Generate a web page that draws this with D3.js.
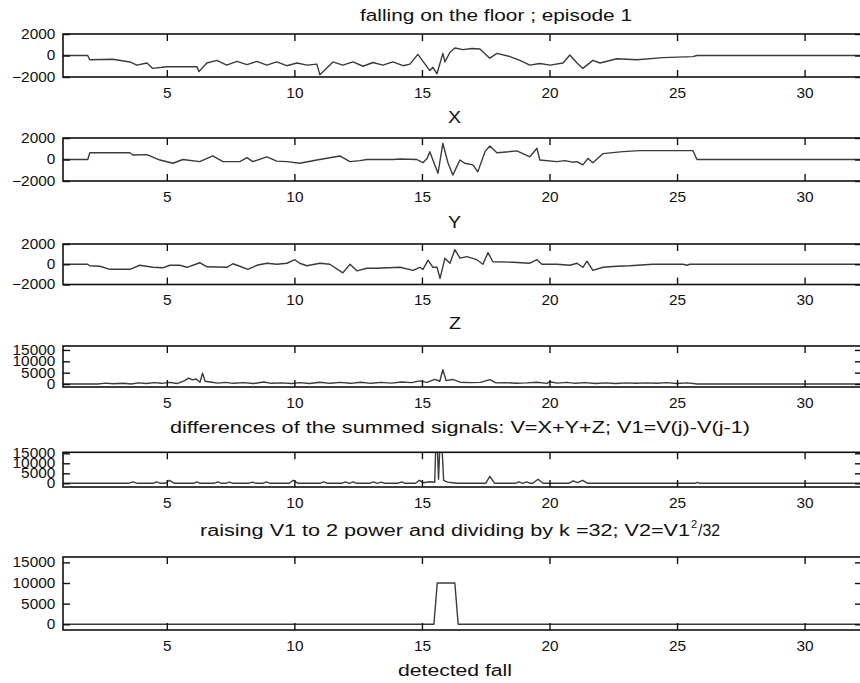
<!DOCTYPE html>
<html><head><meta charset="utf-8">
<script src="https://cdn.jsdelivr.net/npm/d3@7"></script>
<style>
body{margin:0;background:#fff;}
svg text{font-family:"Liberation Sans",Arial,sans-serif;fill:#111;}
</style></head><body>
<svg id="chart" width="860" height="683"></svg>
<script>
// ---------- data ----------
const xTicks = [5, 10, 15, 20, 25, 30];
const ticksSmall = [-2000, 0, 2000];
const ticksLarge = [0, 5000, 10000, 15000];

const titles = [
  "falling on the floor ;  episode 1",
  "X", "Y", "Z",
  "differences of the summed signals:   V=X+Y+Z;   V1=V(j)-V(j-1)",
  "raising V1 to 2 power and dividing by k =32;  V2=V1",
  "detected fall"
];

const t1 = [0.93,1.90,1.98,2.88,3.55,3.83,4.22,4.45,5.0,6.18,6.26,6.57,6.96,7.35,7.75,8.14,8.53,8.92,9.31,9.7,10.1,10.5,10.88,11.0,11.51,11.9,12.3,12.69,13.08,13.47,13.86,14.26,14.53,14.84,15.31,15.43,15.59,15.82,15.9,16.1,16.29,16.61,16.96,17.27,17.66,17.94,18.45,18.84,19.23,19.62,20.02,20.53,20.8,21.08,21.31,21.7,21.98,22.64,23.43,24.45,25.62,25.78,32.25];
const v1 = [0,0,-400,-350,-600,-900,-700,-1200,-1050,-1050,-1500,-700,-450,-900,-550,-850,-550,-900,-600,-950,-700,-900,-800,-1800,-600,-900,-600,-1000,-650,-900,-600,-950,-800,100,-1400,-1100,-1700,200,-600,300,700,550,650,600,-250,200,-100,-450,-900,-750,-900,-700,50,-700,-1200,-450,-700,-300,-400,-200,-100,0,0];

const t2 = [0.93,1.90,1.98,3.55,3.67,4.22,4.73,5.24,5.63,6.29,6.80,7.20,7.86,8.14,8.37,8.92,9.31,9.71,10.21,10.88,11.78,12.18,12.57,12.84,13.86,14.14,14.80,15.04,15.2,15.31,15.43,15.63,15.82,16.02,16.21,16.49,16.68,17.0,17.19,17.47,17.66,17.94,18.3,18.72,19.0,19.23,19.51,19.62,20.29,20.6,20.9,21.08,21.31,21.51,21.70,22.10,22.88,23.55,25.62,25.78,32.25];
const v2 = [0,0,630,630,420,450,-50,-350,0,-200,330,-200,-200,170,-200,250,-150,-200,-350,-50,330,-200,-100,0,0,50,0,-300,100,730,-50,-1280,1500,-300,-1450,-50,-350,-500,-1150,730,1250,630,700,800,500,250,1040,-50,-200,-100,-250,-200,-500,100,-300,550,730,830,830,0,0];

const t3 = [0.93,1.9,1.98,2.37,2.77,3.55,3.94,4.45,4.84,5.12,5.51,5.79,6.29,6.57,7.35,7.59,7.86,8.18,8.53,8.92,9.31,9.71,10.02,10.21,10.49,11.0,11.39,11.9,12.18,12.45,12.84,13.23,14.14,14.65,14.92,15.04,15.24,15.43,15.59,15.71,15.9,16.1,16.29,16.49,16.76,17.15,17.39,17.59,17.78,18.56,19.23,19.51,19.70,20.29,20.8,21.08,21.31,21.47,21.70,22.10,22.64,23.15,24.05,25.23,25.39,25.50,32.25];
const v3 = [0,0,-150,-200,-500,-500,-100,-300,-350,-100,-100,-300,150,-250,-300,50,-200,-500,-100,100,0,100,450,100,-150,100,0,-850,0,-650,-400,-400,-300,-600,-300,-500,400,-300,-300,-1400,600,100,1450,600,750,450,0,1150,250,200,100,450,0,0,-100,100,-300,300,-600,-300,-200,-150,0,0,-100,0,0];

const t4 = [0.93,1.9,2.3,2.6,2.9,3.3,3.6,3.9,4.2,4.5,4.8,5.1,5.4,5.7,5.85,6.0,6.15,6.3,6.4,6.5,6.7,7.0,7.3,7.6,8.0,8.4,8.8,9.1,9.5,9.9,10.2,10.6,11.0,11.4,11.8,12.2,12.6,13.0,13.4,13.8,14.2,14.6,14.9,15.2,15.5,15.7,15.82,15.95,16.2,16.5,16.9,17.3,17.66,17.9,18.3,18.7,19.1,19.5,19.9,20.0,20.3,20.7,21.0,21.4,21.8,22.2,22.6,23.0,23.4,23.8,24.2,24.6,25.0,25.4,25.8,32.25];
const v4 = [0,0,0,400,100,300,0,500,200,600,300,700,200,1500,2600,1800,2200,800,4800,1200,900,400,700,300,600,200,900,300,500,200,600,200,800,300,700,300,800,300,700,400,900,600,1400,700,2000,1200,6300,1500,2000,800,600,700,1900,500,600,300,500,800,300,1000,400,700,300,600,200,500,200,500,300,500,300,600,200,500,0,0];

const t5 = [0.93,3.5,3.67,3.85,4.45,4.6,4.75,4.95,5.1,5.3,6.05,6.18,6.3,6.85,7.0,7.15,7.3,7.45,7.6,8.2,8.35,8.5,8.75,8.9,9.05,9.8,9.95,10.15,11.0,11.15,11.3,11.85,12.0,12.15,12.3,12.45,12.95,13.1,13.25,13.4,13.55,14.05,14.2,14.35,14.75,14.9,15.05,15.3,15.5,15.57,15.65,15.74,15.85,16.0,16.2,16.4,17.5,17.66,17.85,18.65,18.8,18.95,19.1,19.25,19.35,19.55,19.75,20.75,20.93,21.1,21.3,21.5,25.7,25.8,25.9,32.25];
const v5 = [0,0,700,0,0,700,0,0,1500,0,0,700,0,0,700,0,0,600,0,0,600,0,0,700,0,0,1500,0,0,700,0,0,700,0,700,0,0,700,0,600,0,0,700,0,0,1500,300,800,500,30000,2000,30000,1500,600,300,0,0,3500,0,0,700,0,700,0,0,2000,0,0,1200,300,1500,0,0,500,0,0];

const t6 = [0.93,15.47,15.6,16.29,16.42,32.25];
const v6 = [0,0,10000,10000,0,0];

// ---------- layout ----------
const svg = d3.select("#chart");
const x = d3.scaleLinear().domain([0.93, 32.25]).range([63, 862]);

const panels = [
  {top:34,  bottom:77,  dom:[-2000,2000],  ticks:ticksSmall, t:t1, v:v1},
  {top:138, bottom:181, dom:[-2000,2000],  ticks:ticksSmall, t:t2, v:v2},
  {top:244, bottom:284.5, dom:[-2000,2000],ticks:ticksSmall, t:t3, v:v3},
  {top:346, bottom:387, dom:[-1320,16740], ticks:ticksLarge, t:t4, v:v4},
  {top:452.3, bottom:487, dom:[-1850,15500], ticks:ticksLarge, t:t5, v:v5},
  {top:557, bottom:630, dom:[-1380,16300], ticks:ticksLarge, t:t6, v:v6}
];

const defs = svg.append("defs");

panels.forEach((p, i) => {
  const y = d3.scaleLinear().domain(p.dom).range([p.bottom, p.top]);
  const g = svg.append("g");
  defs.append("clipPath").attr("id", "clip" + i)
    .append("rect").attr("x", x.range()[0]).attr("y", p.top)
    .attr("width", x.range()[1] - x.range()[0]).attr("height", p.bottom - p.top);

  const pts = p.t.map((tt, k) => [tt, p.v[k]]);
  const line = d3.line().x(d => x(d[0])).y(d => y(d[1]));
  g.append("path").attr("d", line(pts))
    .attr("clip-path", "url(#clip" + i + ")")
    .attr("fill", "none").attr("stroke", "#3a3a3a").attr("stroke-width", 1.4)
    .attr("stroke-linejoin", "round");

  const ax = [
    g.append("g").attr("transform", `translate(0,${p.bottom})`)
      .call(d3.axisBottom(x).tickValues(xTicks).tickSize(-7).tickPadding(11)),
    g.append("g").attr("transform", `translate(0,${p.top})`)
      .call(d3.axisTop(x).tickValues(xTicks).tickSize(-7).tickFormat("")),
    g.append("g").attr("transform", `translate(${x.range()[0]},0)`)
      .call(d3.axisLeft(y).tickValues(p.ticks).tickSize(-7).tickPadding(7).tickFormat(d3.format("d"))),
    g.append("g").attr("transform", `translate(${x.range()[1]},0)`)
      .call(d3.axisRight(y).tickValues(p.ticks).tickSize(-7).tickFormat(""))
  ];
  ax.forEach(a => {
    a.select(".domain").remove();
    a.selectAll(".tick line").attr("stroke", "#111").attr("stroke-width", 1.4);
    a.selectAll("text").attr("font-size", 14).attr("fill", "#111")
      .attr("transform", "scale(1.1,1)")
      .style("font-family", '"Liberation Sans", Arial, sans-serif');
  });

  g.append("rect").attr("x", x.range()[0]).attr("y", p.top)
    .attr("width", x.range()[1] - x.range()[0]).attr("height", p.bottom - p.top)
    .attr("fill", "none").attr("stroke", "#111").attr("stroke-width", 1.6);
});

// titles
const titlePos = [
  {x:360, y:21,  len:272},
  {x:448, y:123, len:13},
  {x:448, y:228, len:13},
  {x:449, y:329, len:12},
  {x:170, y:433, len:580},
  {x:200, y:536, len:490},
  {x:398, y:676, len:114}
];
titles.forEach((s, i) => {
  const p = titlePos[i];
  svg.append("text").attr("x", p.x).attr("y", p.y)
    .attr("font-size", 16)
    .attr("textLength", p.len).attr("lengthAdjust", "spacingAndGlyphs")
    .text(s);
});
// superscript and tail of the V2 title
svg.append("text").attr("x", 691).attr("y", 528).attr("font-size", 11).text("2");
svg.append("text").attr("x", 698).attr("y", 536).attr("font-size", 16)
  .attr("textLength", 22).attr("lengthAdjust", "spacingAndGlyphs").text("/32");
</script>
</body></html>
